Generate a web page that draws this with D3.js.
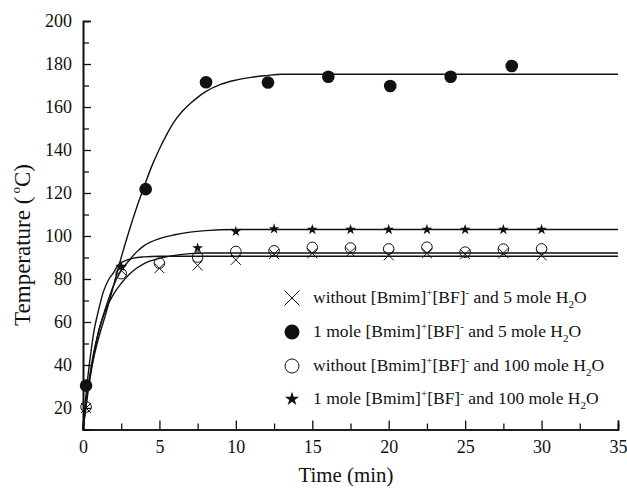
<!DOCTYPE html>
<html>
<head>
<meta charset="utf-8">
<script src="https://cdn.jsdelivr.net/npm/d3@7"></script>
<style>
  body { margin: 0; background: #fff; }
  text { font-family: "Liberation Serif", "Times New Roman", serif; fill: #111; }
</style>
</head>
<body>
<svg id="chart" width="627" height="488"></svg>
<script>
// measured points
var timeX = [0.2, 2.5, 5, 7.5, 10, 12.5, 15, 17.5, 20, 22.5, 25, 27.5, 30];
var tempX = [20, 84, 85, 86.3, 88.9, 91.6, 92, 92.5, 91, 92, 91.5, 92, 91];

var timeFilled = [0.2, 4.1, 8.05, 12.1, 16.05, 20.1, 24.05, 28.05];
var tempFilled = [30.4, 121.8, 171.5, 171.4, 174.1, 169.8, 174.1, 179.1];

var timeOpen = [0.2, 2.5, 5, 7.5, 10, 12.5, 15, 17.5, 20, 22.5, 25, 27.5, 30];
var tempOpen = [20.5, 82.5, 87.4, 90.2, 92.8, 93.1, 94.7, 94.4, 94.0, 94.8, 92.5, 93.9, 94.0];

var timeStar = [0.2, 2.5, 7.5, 10, 12.5, 15, 17.5, 20, 22.5, 25, 27.5, 30];
var tempStar = [30, 85.8, 94.4, 102.1, 103.3, 103, 103, 103, 103, 103, 103, 103];

// fitted curves
var fitXt = [0, 0.25, 0.5, 0.75, 1.0, 1.33, 1.7, 2.0, 2.3, 2.7, 3.3, 4, 5, 35];
var fitXv = [10, 30, 45, 57, 65, 74, 80, 83, 86.5, 88.3, 89.7, 90.3, 90.6, 90.6];

var fitFt = [0, 0.3, 0.6, 1, 1.5, 2, 2.5, 3, 3.5, 4, 4.5, 5, 5.5, 6, 6.5, 7, 7.5, 8, 9, 10, 11, 12, 13, 35];
var fitFv = [10, 28, 40, 52, 64, 77, 90, 102, 113, 123, 132.5, 140.5, 147.5, 153.5, 158, 161.5, 164.5, 167, 170.5, 172.5, 173.8, 174.6, 175.2, 175.2];

var fitOt = [0, 0.3, 0.6, 1, 1.5, 2, 2.5, 3, 3.5, 4, 5, 6, 7, 8, 35];
var fitOv = [10, 26, 40, 55, 66, 73, 78, 82, 85, 87.2, 89.6, 91, 91.8, 92.1, 92.1];

var fitSt = [0, 0.3, 0.6, 1, 1.5, 2, 2.5, 3, 3.5, 4, 5, 6, 7, 8, 10, 35];
var fitSv = [10, 28, 42, 55, 67, 77, 84, 88.5, 92.5, 95.5, 98.8, 100.6, 101.8, 102.5, 103, 103];

var xMajor = [0, 5, 10, 15, 20, 25, 30, 35];
var xMinor = [2.5, 7.5, 12.5, 17.5, 22.5, 27.5, 32.5];
var yMajor = [20, 40, 60, 80, 100, 120, 140, 160, 180, 200];
var yMinor = [30, 50, 70, 90, 110, 130, 150, 170, 190];

var svg = d3.select("#chart");

var x = d3.scaleLinear().domain([0, 35]).range([83, 618]);
var y = d3.scaleLinear().domain([10, 200]).range([429.5, 21]);

var ink = "#111";

// axes
svg.append("g").attr("transform", "translate(0," + y(10) + ")")
    .call(d3.axisBottom(x).tickValues(xMajor).tickSize(-9).tickPadding(11).tickFormat(d3.format("d")));
svg.append("g").attr("transform", "translate(0," + y(10) + ")")
    .call(d3.axisBottom(x).tickValues(xMinor).tickSize(-6).tickFormat(""));
svg.append("g").attr("transform", "translate(" + x(0) + ",0)")
    .call(d3.axisLeft(y).tickValues(yMajor).tickSize(-8).tickPadding(11));
svg.append("g").attr("transform", "translate(" + x(0) + ",0)")
    .call(d3.axisLeft(y).tickValues(yMinor).tickSize(-6).tickFormat(""));

svg.selectAll(".domain").attr("stroke", ink).attr("stroke-width", 1.6);
svg.selectAll(".tick line").attr("stroke", ink).attr("stroke-width", 1.3);
svg.selectAll(".tick text").style("font-family", "Liberation Serif").style("font-size", "18px").attr("fill", ink);

// axis titles
svg.append("text").attr("x", 346).attr("y", 482).attr("text-anchor", "middle")
    .attr("textLength", 95).attr("lengthAdjust", "spacingAndGlyphs")
    .style("font-size", "22px").text("Time (min)");

var yt = svg.append("text").attr("transform", "translate(29.5,245) rotate(-90)")
    .attr("text-anchor", "middle").style("font-size", "23px");
yt.append("tspan").text("Temperature (");
yt.append("tspan").attr("dx", 3).attr("dy", -10).style("font-size", "13px").text("o");
yt.append("tspan").attr("dy", 10).text("C)");

// curves
var line = d3.line().x(function(d) { return x(d[0]); }).y(function(d) { return y(d[1]); })
    .curve(d3.curveMonotoneX);
var fits = [[fitXt, fitXv], [fitFt, fitFv], [fitOt, fitOv], [fitSt, fitSv]];
fits.forEach(function(f) {
    svg.append("path")
        .datum(d3.zip(f[0], f[1]))
        .attr("d", line)
        .attr("fill", "none")
        .attr("stroke", ink)
        .attr("stroke-width", 1.4);
});

// markers
function drawCross(g, cx, cy, h) {
    g.append("path")
        .attr("d", "M" + (cx - h) + "," + (cy - h) + "L" + (cx + h) + "," + (cy + h) +
                   "M" + (cx - h) + "," + (cy + h) + "L" + (cx + h) + "," + (cy - h))
        .attr("stroke", ink).attr("stroke-width", 1).attr("fill", "none");
}

var star = d3.symbol().type(d3.symbolStar);

svg.append("g").selectAll("circle").data(d3.zip(timeOpen, tempOpen)).enter()
    .append("circle")
    .attr("cx", function(d) { return x(d[0]); })
    .attr("cy", function(d) { return y(d[1]); })
    .attr("r", 5.3)
    .attr("fill", "none").attr("stroke", ink).attr("stroke-width", 1);

var gCross = svg.append("g");
d3.zip(timeX, tempX).forEach(function(d) { drawCross(gCross, x(d[0]), y(d[1]), 5); });

svg.append("g").selectAll("circle").data(d3.zip(timeFilled, tempFilled)).enter()
    .append("circle")
    .attr("cx", function(d) { return x(d[0]); })
    .attr("cy", function(d) { return y(d[1]); })
    .attr("r", 6.3)
    .attr("fill", ink);

svg.append("g").selectAll("path").data(d3.zip(timeStar, tempStar)).enter()
    .append("path")
    .attr("transform", function(d) { return "translate(" + x(d[0]) + "," + y(d[1]) + ")"; })
    .attr("d", star.size(36))
    .attr("fill", ink);

// legend
var legendRows = [
    { kind: "cross", parts: [["without [Bmim]", 0], ["+", 1], ["[BF]", 0], ["-", 1], [" and 5 mole H", 0], ["2", -1], ["O", 0]] },
    { kind: "filled", parts: [["1 mole [Bmim]", 0], ["+", 1], ["[BF]", 0], ["-", 1], [" and 5 mole H", 0], ["2", -1], ["O", 0]] },
    { kind: "open", parts: [["without [Bmim]", 0], ["+", 1], ["[BF]", 0], ["-", 1], [" and 100 mole H", 0], ["2", -1], ["O", 0]] },
    { kind: "star", parts: [["1 mole [Bmim]", 0], ["+", 1], ["[BF]", 0], ["-", 1], [" and 100 mole H", 0], ["2", -1], ["O", 0]] }
];
var legendY = [298, 332, 366, 399];
var lg = svg.append("g");

legendRows.forEach(function(row, i) {
    var cy = legendY[i], cx = 292;
    if (row.kind == "cross") {
        drawCross(lg, cx, cy, 7.5);
    } else if (row.kind == "filled") {
        lg.append("circle").attr("cx", cx).attr("cy", cy).attr("r", 7.5).attr("fill", ink);
    } else if (row.kind == "open") {
        lg.append("circle").attr("cx", cx).attr("cy", cy).attr("r", 7)
            .attr("fill", "none").attr("stroke", ink).attr("stroke-width", 1);
    } else {
        lg.append("path").attr("transform", "translate(" + cx + "," + cy + ")")
            .attr("d", star.size(62)).attr("fill", ink);
    }
    var t = lg.append("text").attr("x", 313).attr("y", cy + 4.5).style("font-size", "17.5px");
    var prev = 0;
    row.parts.forEach(function(p) {
        var shift = p[1] == 1 ? -7 : (p[1] == -1 ? 5 : 0);
        var ts = t.append("tspan").attr("dy", shift - prev).text(p[0]);
        if (p[1] != 0) ts.style("font-size", "11px");
        prev = shift;
    });
});
</script>
</body>
</html>
